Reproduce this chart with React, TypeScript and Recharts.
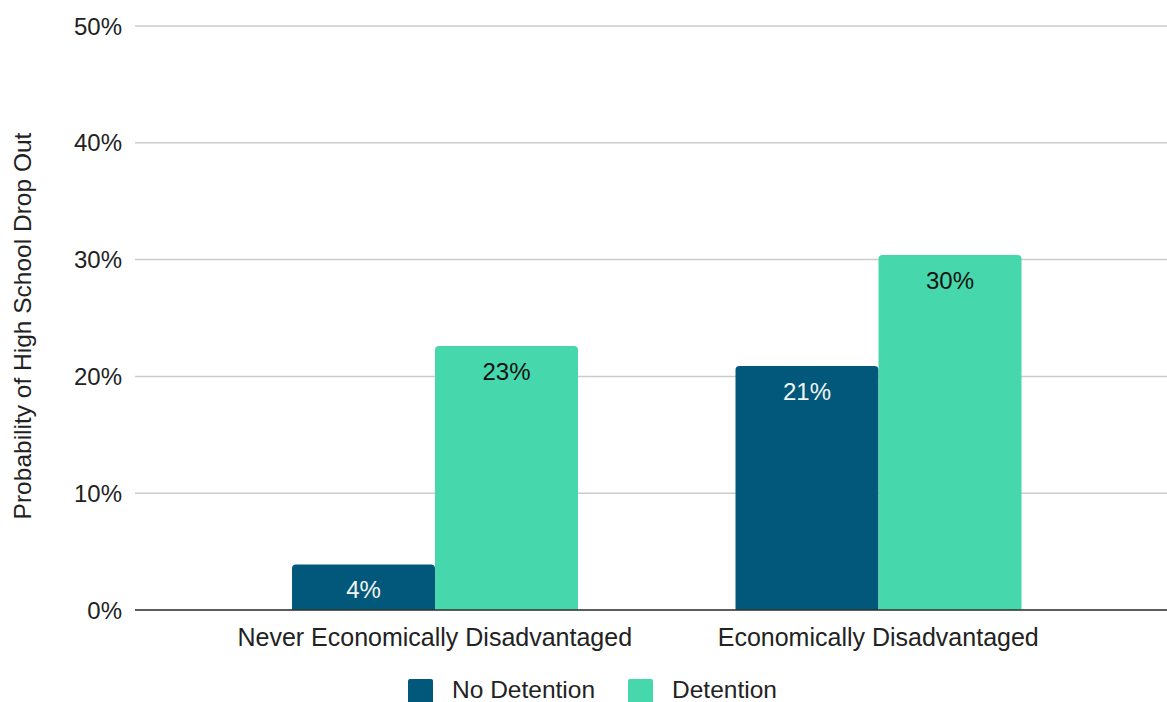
import {
  Bar,
  BarChart,
  CartesianGrid,
  LabelList,
  Legend,
  XAxis,
  YAxis,
} from "recharts";

const groups = ["Never Economically Disadvantaged", "Economically Disadvantaged"];
const noDetention = [3.9, 20.9];
const detention = [22.6, 30.4];
const yTicks = [0, 10, 20, 30, 40, 50];

const FONT = '"Liberation Sans", Arial, sans-serif';
const DARK = "#02587a";
const LIGHT = "#46d8ac";

const chartData = groups.map((group, i) => ({
  group,
  noDetention: noDetention[i],
  detention: detention[i],
}));

const pct = (value: number) => `${Math.round(value)}%`;

function AxisTitle(props: any) {
  const { viewBox } = props;
  const x = viewBox.x + 22;
  const y = viewBox.y + viewBox.height / 2 + 8;
  return (
    <text
      x={x}
      y={y}
      transform={`rotate(-90, ${x}, ${y})`}
      textAnchor="middle"
      dominantBaseline="central"
      fontSize={24.5}
      fontFamily={FONT}
      fill="#222"
    >
      Probability of High School Drop Out
    </text>
  );
}

function LegendContent() {
  const items = [
    { label: "No Detention", color: DARK },
    { label: "Detention", color: LIGHT },
  ];
  return (
    <div style={{ display: "flex", paddingLeft: 408, fontFamily: FONT }}>
      {items.map((item) => (
        <div
          key={item.label}
          style={{ display: "flex", alignItems: "flex-start", marginRight: 33 }}
        >
          <span
            style={{
              width: 25,
              height: 25,
              borderRadius: 2,
              background: item.color,
              marginRight: 19,
              display: "inline-block",
            }}
          />
          <span style={{ fontSize: 24.5, color: "#222", lineHeight: "22px" }}>
            {item.label}
          </span>
        </div>
      ))}
    </div>
  );
}

export default function App() {
  return (
    <div style={{ position: "absolute", top: 0, left: 0, background: "#fff" }}>
      <BarChart
        width={1167}
        height={702}
        data={chartData}
        margin={{ top: 26, right: 0, bottom: 0, left: 0 }}
        barGap={0}
        style={{ fontFamily: FONT }}
      >
        <CartesianGrid vertical={false} stroke="#cccccc" strokeWidth={1.5} />
        <XAxis
          dataKey="group"
          height={69}
          padding={{ left: 78, right: 67 }}
          tickLine={false}
          tickSize={0}
          tickMargin={18}
          axisLine={{ stroke: "#333", strokeWidth: 1.5 }}
          tick={{ fontSize: 25, fill: "#222", fontFamily: FONT }}
        />
        <YAxis
          width={135}
          domain={[0, 50]}
          ticks={yTicks}
          tickFormatter={(v: number) => `${v}%`}
          axisLine={false}
          tickLine={false}
          tickSize={0}
          tickMargin={13}
          tick={{ fontSize: 24, fill: "#222", fontFamily: FONT }}
          label={{ content: <AxisTitle /> }}
        />
        <Legend
          verticalAlign="bottom"
          height={23}
          content={<LegendContent />}
          wrapperStyle={{ left: 0, width: 1167 }}
        />
        <Bar
          dataKey="noDetention"
          name="No Detention"
          fill={DARK}
          barSize={143}
          radius={[4, 4, 0, 0]}
          isAnimationActive={false}
        >
          <LabelList
            dataKey="noDetention"
            position="insideTop"
            offset={17}
            formatter={(v: any) => pct(Number(v))}
            style={{ fill: "#f4f4f4", fontSize: 24, fontFamily: FONT }}
          />
        </Bar>
        <Bar
          dataKey="detention"
          name="Detention"
          fill={LIGHT}
          barSize={143}
          radius={[4, 4, 0, 0]}
          isAnimationActive={false}
        >
          <LabelList
            dataKey="detention"
            position="insideTop"
            offset={17}
            formatter={(v: any) => pct(Number(v))}
            style={{ fill: "#111", fontSize: 24, fontFamily: FONT }}
          />
        </Bar>
      </BarChart>
    </div>
  );
}
